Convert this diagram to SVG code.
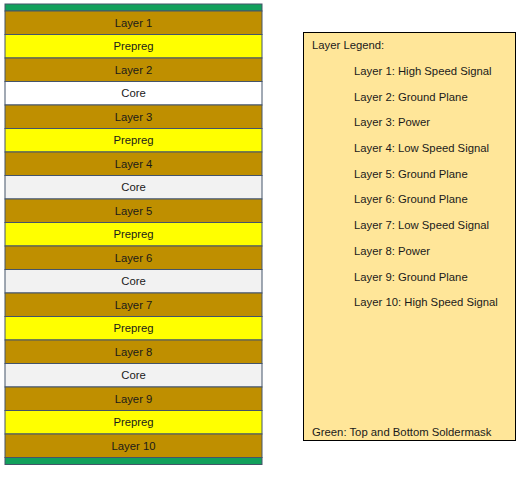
<svg xmlns="http://www.w3.org/2000/svg" width="525" height="484" viewBox="0 0 525 484">
<style>
.r{stroke:#44546A;stroke-width:1}
.cu{fill:#BF8F00}
.pp{fill:#FFFF00}
.co{fill:#F2F2F2}
.sm{fill:#12A05C}
text{font-family:"Liberation Sans",Arial,sans-serif;font-size:11.3px;fill:#1a1a1a}
.c{text-anchor:middle;dominant-baseline:central}
</style>
<rect width="525" height="484" fill="#ffffff"/>
<g id="stack">
<g id="mask-top"><rect class="r sm" x="5" y="4" width="257" height="7"/></g>
<g id="layer1"><rect class="r cu" x="5" y="11" width="257" height="23.5"/><text class="c" x="133.5" y="22.75">Layer 1</text></g>
<g id="prepreg1"><rect class="r pp" x="5" y="34.5" width="257" height="23.5"/><text class="c" x="133.5" y="46.25">Prepreg</text></g>
<g id="layer2"><rect class="r cu" x="5" y="58" width="257" height="23.5"/><text class="c" x="133.5" y="69.75">Layer 2</text></g>
<g id="core1"><rect class="r" fill="#FFFFFF" x="5" y="81.5" width="257" height="23.5"/><text class="c" x="133.5" y="93.25">Core</text></g>
<g id="layer3"><rect class="r cu" x="5" y="105" width="257" height="23.5"/><text class="c" x="133.5" y="116.75">Layer 3</text></g>
<g id="prepreg2"><rect class="r pp" x="5" y="128.5" width="257" height="23.5"/><text class="c" x="133.5" y="140.25">Prepreg</text></g>
<g id="layer4"><rect class="r cu" x="5" y="152" width="257" height="23.5"/><text class="c" x="133.5" y="163.75">Layer 4</text></g>
<g id="core2"><rect class="r co" x="5" y="175.5" width="257" height="23.5"/><text class="c" x="133.5" y="187.25">Core</text></g>
<g id="layer5"><rect class="r cu" x="5" y="199" width="257" height="23.5"/><text class="c" x="133.5" y="210.75">Layer 5</text></g>
<g id="prepreg3"><rect class="r pp" x="5" y="222.5" width="257" height="23.5"/><text class="c" x="133.5" y="234.25">Prepreg</text></g>
<g id="layer6"><rect class="r cu" x="5" y="246" width="257" height="23.5"/><text class="c" x="133.5" y="257.75">Layer 6</text></g>
<g id="core3"><rect class="r co" x="5" y="269.5" width="257" height="23.5"/><text class="c" x="133.5" y="281.25">Core</text></g>
<g id="layer7"><rect class="r cu" x="5" y="293" width="257" height="23.5"/><text class="c" x="133.5" y="304.75">Layer 7</text></g>
<g id="prepreg4"><rect class="r pp" x="5" y="316.5" width="257" height="23.5"/><text class="c" x="133.5" y="328.25">Prepreg</text></g>
<g id="layer8"><rect class="r cu" x="5" y="340" width="257" height="23.5"/><text class="c" x="133.5" y="351.75">Layer 8</text></g>
<g id="core4"><rect class="r co" x="5" y="363.5" width="257" height="23.5"/><text class="c" x="133.5" y="375.25">Core</text></g>
<g id="layer9"><rect class="r cu" x="5" y="387" width="257" height="23.5"/><text class="c" x="133.5" y="398.75">Layer 9</text></g>
<g id="prepreg5"><rect class="r pp" x="5" y="410.5" width="257" height="23.5"/><text class="c" x="133.5" y="422.25">Prepreg</text></g>
<g id="layer10"><rect class="r cu" x="5" y="434" width="257" height="23.5"/><text class="c" x="133.5" y="445.75">Layer 10</text></g>
<g id="mask-bottom"><rect class="r sm" x="5" y="457.5" width="257" height="7"/></g>
</g>
<g id="legend">
<rect x="303.5" y="32.5" width="212" height="408" fill="#FFE699" stroke="#000000" stroke-width="1"/>
<text x="312" y="49">Layer Legend:</text>
<text x="354" y="75">Layer 1: High Speed Signal</text>
<text x="354" y="101">Layer 2: Ground Plane</text>
<text x="354" y="126">Layer 3: Power</text>
<text x="354" y="152">Layer 4: Low Speed Signal</text>
<text x="354" y="178">Layer 5: Ground Plane</text>
<text x="354" y="203">Layer 6: Ground Plane</text>
<text x="354" y="229">Layer 7: Low Speed Signal</text>
<text x="354" y="255">Layer 8: Power</text>
<text x="354" y="281">Layer 9: Ground Plane</text>
<text x="354" y="306">Layer 10: High Speed Signal</text>
<text x="312" y="436">Green: Top and Bottom Soldermask</text>
</g>
</svg>
